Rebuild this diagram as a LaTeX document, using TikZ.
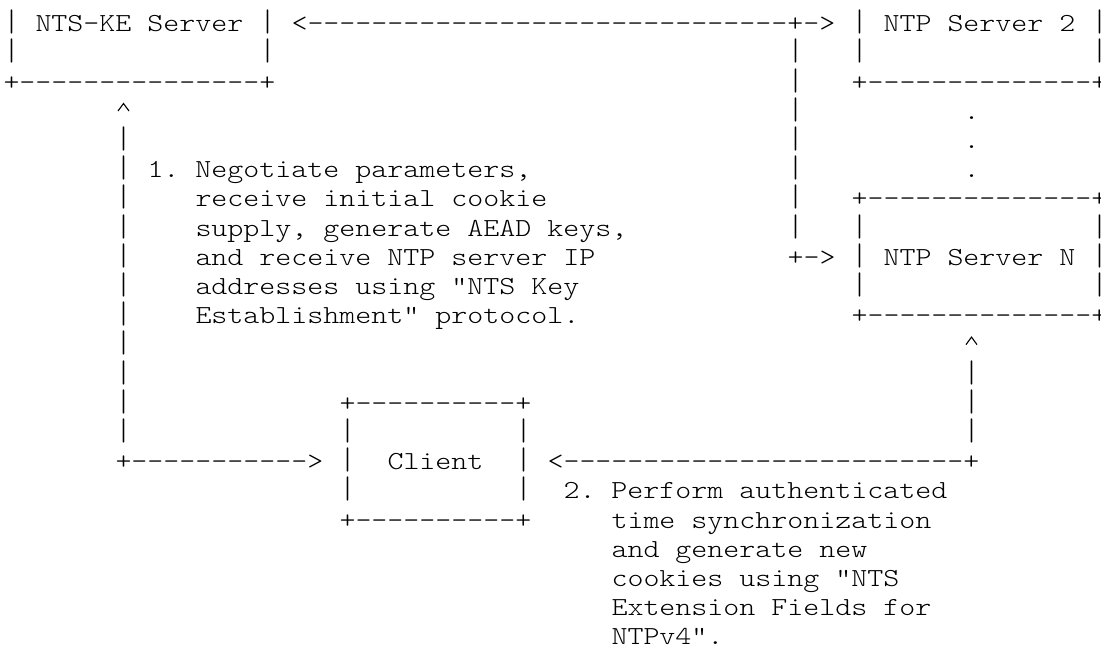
\documentclass[tikz,border=0pt]{standalone}
\usepackage{graphicx}
\usepackage{fontspec}
% light typewriter face, widened to a 16pt character cell
\setmonofont{lmmonolt10-regular.otf}[FakeStretch=1.172]
% one run of characters, placed on the character grid (column, row)
\newcommand\run[3]{\node[cell] (r#2c#1) at (#1,#2) {#3};}
% a vertical bar tall enough to join the rows above and below
\newcommand\vbar[2]{\node[cell] (r#2c#1) at (#1,#2) {\scalebox{1}[1.2]{|}};}
% an up arrowhead (chevron), centred in its cell above the baseline
\newcommand\caret[2]{%
  \coordinate (r#2c#1) at (#1+0.5,#2);
  \draw[chevron] ([shift={(-5.5pt,8.3pt)}]r#2c#1) -- ([shift={(0pt,15.8pt)}]r#2c#1)
    -- ([shift={(5.5pt,8.3pt)}]r#2c#1);}
\begin{document}
\begin{tikzpicture}
\fill[white] (0pt,0pt) rectangle (1101pt,-649pt);
\useasboundingbox (0pt,0pt) rectangle (1101pt,-649pt);
\begin{scope}[shift={(3.5pt,-31.7pt)}, x=16pt, y=-29.2pt,
  cell/.style={font=\ttfamily\fontsize{26}{29.2}\selectfont,
    inner sep=0pt, outer sep=0pt, anchor=base west, text=black},
  chevron/.style={draw=black, line width=1.1pt, line join=miter}]
% row 0
\vbar{0}{0}
\run{2}{0}{NTS-KE Server}
\vbar{16}{0}
\run{18}{0}{<------------------------------+->}
\vbar{53}{0}
\run{55}{0}{NTP Server 2}
\vbar{68}{0}
% row 1
\vbar{0}{1}
\vbar{16}{1}
\vbar{49}{1}
\vbar{53}{1}
\vbar{68}{1}
% row 2
\run{0}{2}{+---------------+}
\vbar{49}{2}
\run{53}{2}{+--------------+}
% row 3
\caret{7}{3}
\vbar{49}{3}
\run{60}{3}{.}
% row 4
\vbar{7}{4}
\vbar{49}{4}
\run{60}{4}{.}
% row 5
\vbar{7}{5}
\run{9}{5}{1. Negotiate parameters,}
\vbar{49}{5}
\run{60}{5}{.}
% row 6
\vbar{7}{6}
\run{12}{6}{receive initial cookie}
\vbar{49}{6}
\run{53}{6}{+--------------+}
% row 7
\vbar{7}{7}
\run{12}{7}{supply, generate AEAD keys,}
\vbar{49}{7}
\vbar{53}{7}
\vbar{68}{7}
% row 8
\vbar{7}{8}
\run{12}{8}{and receive NTP server IP}
\run{49}{8}{+->}
\vbar{53}{8}
\run{55}{8}{NTP Server N}
\vbar{68}{8}
% row 9
\vbar{7}{9}
\run{12}{9}{addresses using "NTS Key}
\vbar{53}{9}
\vbar{68}{9}
% row 10
\vbar{7}{10}
\run{12}{10}{Establishment" protocol.}
\run{53}{10}{+--------------+}
% row 11
\vbar{7}{11}
\caret{60}{11}
% row 12
\vbar{7}{12}
\vbar{60}{12}
% row 13
\vbar{7}{13}
\run{21}{13}{+----------+}
\vbar{60}{13}
% row 14
\vbar{7}{14}
\vbar{21}{14}
\vbar{32}{14}
\vbar{60}{14}
% row 15
\run{7}{15}{+----------->}
\vbar{21}{15}
\run{24}{15}{Client}
\vbar{32}{15}
\run{34}{15}{<-------------------------+}
% row 16
\vbar{21}{16}
\vbar{32}{16}
\run{35}{16}{2. Perform authenticated}
% row 17
\run{21}{17}{+----------+}
\run{38}{17}{time synchronization}
% rows 18-21
\run{38}{18}{and generate new}
\run{38}{19}{cookies using "NTS}
\run{38}{20}{Extension Fields for}
\run{38}{21}{NTPv4".}
\end{scope}
\end{tikzpicture}
\end{document}
